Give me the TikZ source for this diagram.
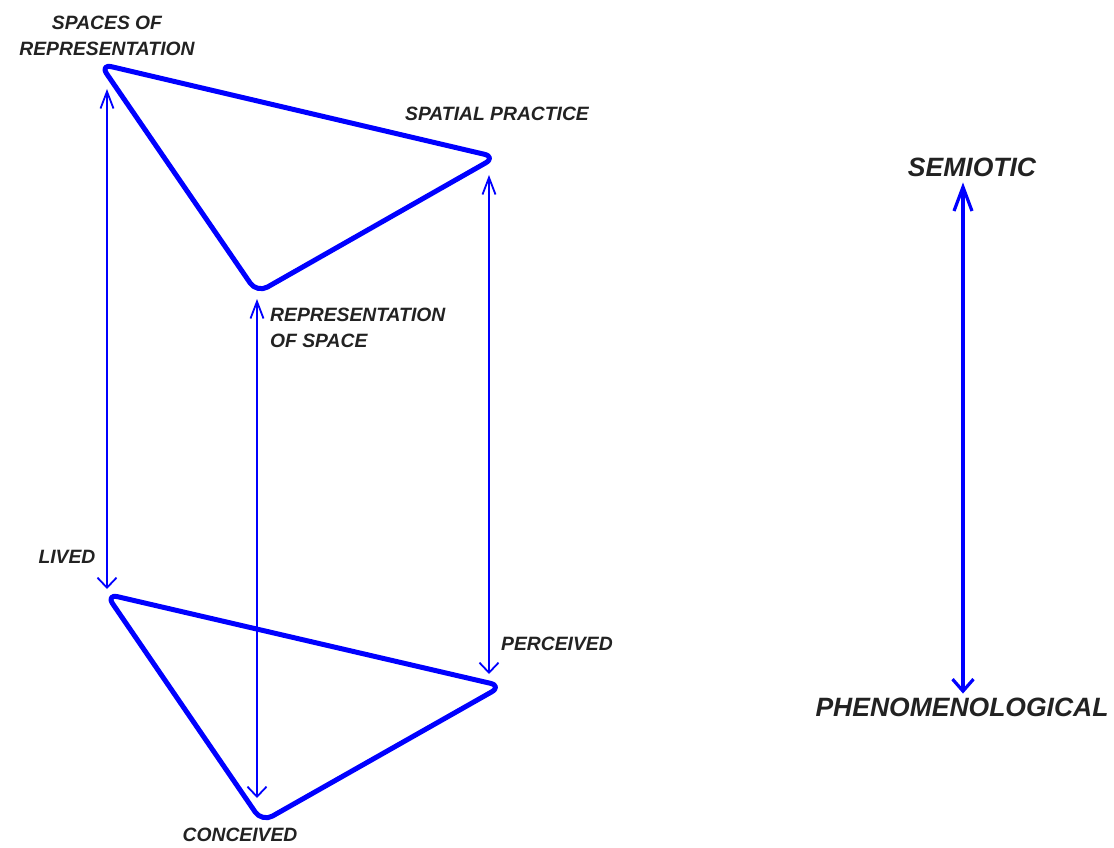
\documentclass[tikz,border=0pt]{standalone}
\usepackage{fontspec}
\setmainfont{Liberation Sans}
\usetikzlibrary{arrows.meta}
\definecolor{ink}{HTML}{222222}
\definecolor{pblue}{RGB}{0,0,255}
\tikzset{
  tri/.style={draw=pblue, line width=5pt, rounded corners=12pt, line join=round},
  thinarrow/.style={draw=pblue, line width=1.8pt,
     {Straight Barb[length=17pt,width=13pt,line width=1.8pt]}-{Straight Barb[length=10pt,width=19pt,line width=1.8pt]}},
  bigarrow/.style={draw=pblue, line width=3.2pt,
     {Straight Barb[length=24pt,width=18pt,line width=3.2pt]}-{Straight Barb[length=12pt,width=21pt,line width=3.2pt]}},
  lab/.style={text=ink, inner sep=0pt, font=\fontsize{19.3}{26}\selectfont\bfseries\itshape},
  biglab/.style={text=ink, inner sep=0pt, font=\fontsize{26.5}{30}\selectfont\bfseries\itshape}
}
\begin{document}
\begin{tikzpicture}[x=1pt,y=-1pt]
\useasboundingbox (0,0) rectangle (1114,848);
% top triangle
\coordinate (A1) at (100,64);
\coordinate (B1) at (496,157);
\coordinate (C1) at (257,293);
% bottom triangle
\coordinate (A2) at (106,594);
\coordinate (B2) at (502,686);
\coordinate (C2) at (262,822);
\draw[tri] (A1) -- (B1) -- (C1) -- cycle;
\draw[tri] (A2) -- (B2) -- (C2) -- cycle;
% arrow ends
\coordinate (l1) at (107,89);
\coordinate (l2) at (107,589);
\coordinate (m1) at (257,299);
\coordinate (m2) at (257,798);
\coordinate (r1) at (489,175);
\coordinate (r2) at (489,674);
\draw[thinarrow] (l1) -- (l2);
\draw[thinarrow] (m1) -- (m2);
\draw[thinarrow] (r1) -- (r2);
% labels
\node[lab, align=center] (sor) at (107,36) {SPACES OF\\REPRESENTATION};
\node[lab, text depth=0pt] (sp) at (497,114) {SPATIAL PRACTICE};
\node[lab, align=left, anchor=west] (ros) at (270,328) {REPRESENTATION\\OF SPACE};
\node[lab, text depth=0pt] (lived) at (67,557) {LIVED};
\node[lab, text depth=0pt] (perc) at (557,644) {PERCEIVED};
\node[lab, text depth=0pt] (conc) at (240,835) {CONCEIVED};
\node[biglab, text depth=0pt] (sem) at (972,167) {SEMIOTIC};
\node[biglab, text depth=0pt] (phen) at (962,707) {PHENOMENOLOGICAL};
\draw[bigarrow] ([yshift=-6pt]sem.south -| 963,0) -- ([yshift=4pt]phen.north -| 963,0);
\end{tikzpicture}
\end{document}
